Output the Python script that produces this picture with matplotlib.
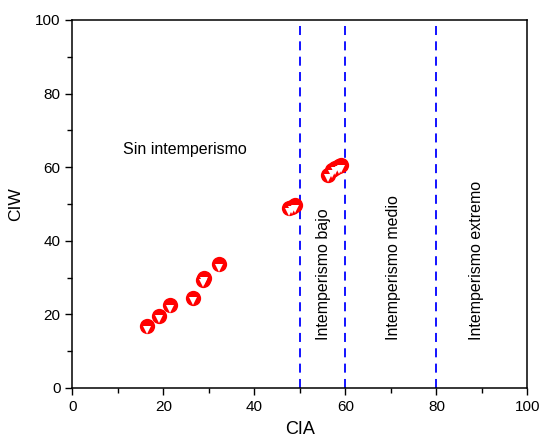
import matplotlib.pyplot as plt
from matplotlib.ticker import MultipleLocator
from matplotlib.transforms import ScaledTranslation

plt.rcParams['font.family'] = ['Liberation Sans', 'DejaVu Sans']

# CIA / CIW values
cia = [16.4, 19.0, 21.5, 26.4, 28.7, 29.0, 32.3,
       47.5, 48.2, 48.9,
       56.2, 57.0, 57.8, 58.5, 59.0]
ciw = [16.8, 19.6, 22.5, 24.5, 29.4, 30.0, 33.6,
       48.8, 49.2, 49.6,
       58.0, 59.2, 59.8, 60.3, 60.5]

limits = [50, 60, 80]
zone_labels = ["Intemperismo bajo", "Intemperismo medio", "Intemperismo extremo"]
zone_x = [55.1, 70.5, 88.8]

fig = plt.figure(figsize=(5.41, 4.42), dpi=100)
ax = fig.add_axes([0.134, 0.1222, 0.841, 0.8326])

# red circle with a white triangle in its lower half
ax.plot(cia, ciw, 'o', color='red', markersize=11, markeredgewidth=0, zorder=3)
shift = ax.transData + ScaledTranslation(0, -2.5 / 72, fig.dpi_scale_trans)
ax.plot(cia, ciw, 'v', color='white', markersize=5.5, markeredgewidth=0,
        transform=shift, zorder=4)

for x in limits:
    ax.axvline(x, color='blue', linestyle=(0, (5, 3.5)), linewidth=1.3, zorder=2)

ax.text(11.1, 64.7, "Sin intemperismo", fontsize=11.5, va='center', ha='left')
for x, lab in zip(zone_x, zone_labels):
    ax.text(x, 13.0, lab, rotation=90, fontsize=11.5, ha='center', va='bottom')

ax.set_xlim(0, 100)
ax.set_ylim(0, 100)
ax.xaxis.set_major_locator(MultipleLocator(20))
ax.xaxis.set_minor_locator(MultipleLocator(10))
ax.yaxis.set_major_locator(MultipleLocator(20))
ax.yaxis.set_minor_locator(MultipleLocator(10))
ax.tick_params(which='major', direction='out', length=5, width=1, labelsize=11)
ax.tick_params(which='minor', direction='out', length=3.5, width=1)
for s in ax.spines.values():
    s.set_linewidth(1.1)

ax.set_xlabel("CIA", fontsize=13, labelpad=5)
ax.set_ylabel("CIW", fontsize=12.5, labelpad=9)

fig.savefig("out.png", dpi=100)
